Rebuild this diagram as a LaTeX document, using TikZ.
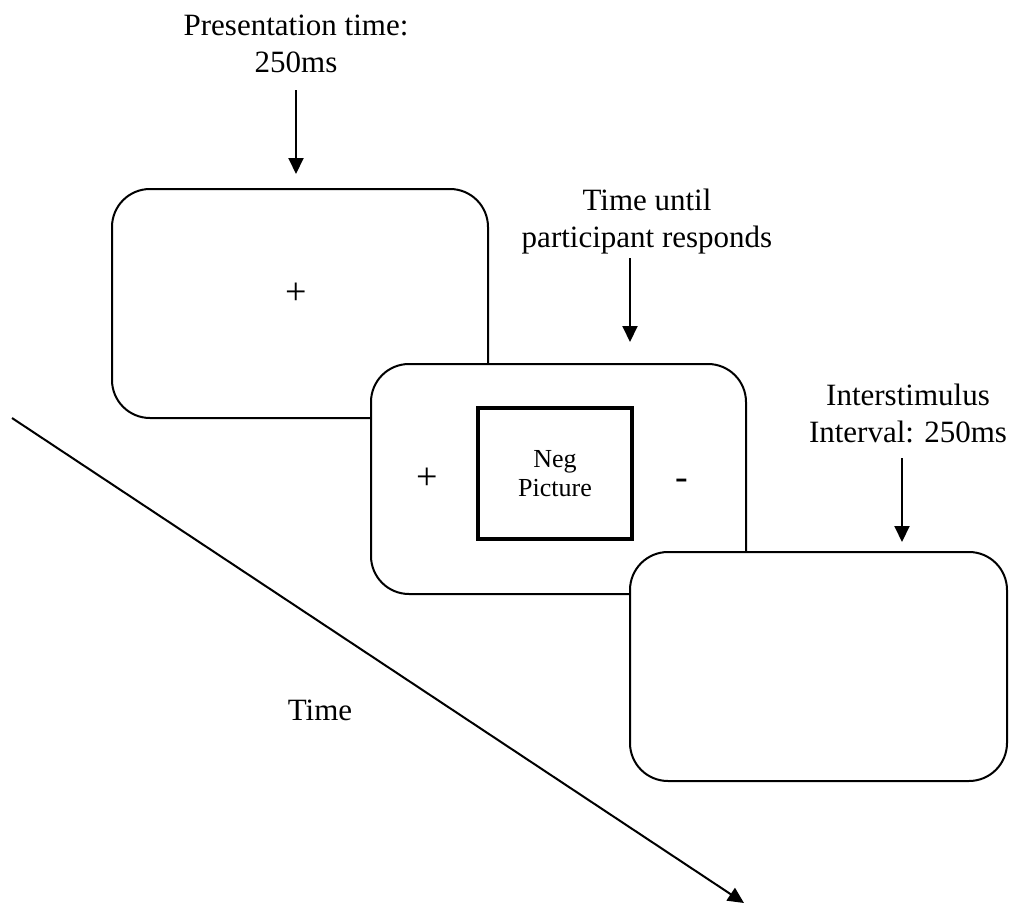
\documentclass[tikz,border=0pt]{standalone}
\usepackage{fontspec}
\setmainfont{Liberation Serif}
\usetikzlibrary{arrows.meta}
\tikzset{
  screen/.style={draw, line width=2pt, rounded corners=38pt, fill=white, inner sep=0pt},
  picbox/.style={draw, line width=4.5pt, fill=white, inner sep=0pt, minimum width=154pt, minimum height=131pt, align=center, font=\fontsize{26}{29}\selectfont},
  lbl/.style={align=center, inner sep=0pt, font=\fontsize{31}{37}\selectfont},
  sym/.style={anchor=base, inner sep=0pt, font=\fontsize{38}{40}\selectfont},
  arr/.style={line width=2pt, -{Triangle[length=16pt,width=15pt]}},
}
\begin{document}
\begin{tikzpicture}[x=1pt,y=-1pt]
\useasboundingbox (0,0) rectangle (1015,905);
% screens
\node[screen, minimum width=376pt, minimum height=229pt] (b1) at (300,303.5) {};
\node[sym] (p1) at (296,304) {+};
\node[screen, minimum width=375pt, minimum height=230pt] (b2) at (558.5,479) {};
\node[sym] (p2) at (427,489) {+};
\node[sym] (m2) at (682,489) {-};
\node[picbox] (neg) at (555,473.5) {Neg\\Picture};
\node[screen, minimum width=377pt, minimum height=229pt] (b3) at (818.5,666.5) {};
% labels
\node[lbl] (l1) at (296,44) {Presentation time:\\250ms};
\node[lbl] (l2) at (647,222) {Time until\\participant responds};
\node[lbl] (l3) at (908,413) {Interstimulus\\Interval: 250ms};
\coordinate (a1s) at (296,90);
\coordinate (a1e) at (296,174);
\coordinate (a2s) at (630,258);
\coordinate (a2e) at (630,342);
\coordinate (a3s) at (902,458);
\coordinate (a3e) at (902,542);
\draw[arr] (a1s) -- (a1e);
\draw[arr] (a2s) -- (a2e);
\draw[arr] (a3s) -- (a3e);
% time axis
\coordinate (t0) at (12,418);
\coordinate (t1) at (744,903);
\draw[arr] (t0) -- (t1);
\node[font=\fontsize{31}{36}\selectfont, anchor=base, inner sep=0pt] (time) at (320,720) {Time};
\end{tikzpicture}
\end{document}
